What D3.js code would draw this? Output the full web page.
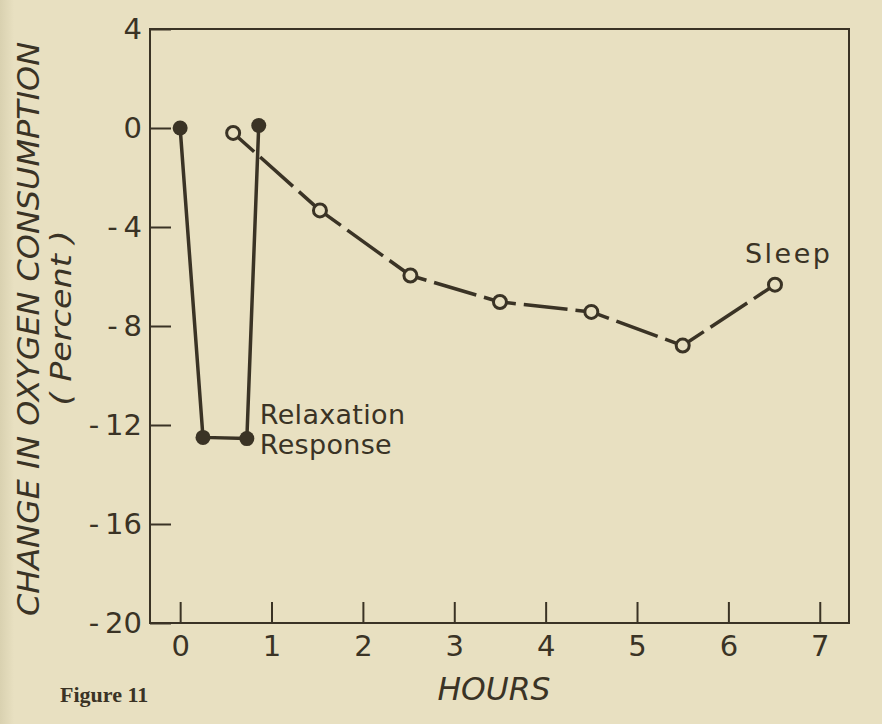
<!DOCTYPE html>
<html>
<head>
<meta charset="utf-8">
<script src="https://cdn.jsdelivr.net/npm/d3@7"></script>
<style>
  body { margin: 0; background: #e8e0c1; }
  svg { display: block; }
</style>
</head>
<body>
<svg id="chart" width="882" height="724"></svg>
<script>
// values
const xTicks = [0, 1, 2, 3, 4, 5, 6, 7];
const yTicks = [4, 0, -4, -8, -12, -16, -20];

// relaxation response (filled dots, solid line)
const relaxHours = [0, 0.25, 0.73, 0.86];
const relaxValues = [0, -12.5, -12.55, 0.1];

// sleep (open dots, dashed line)
const sleepHours = [0.58, 1.53, 2.52, 3.5, 4.5, 5.5, 6.51];
const sleepValues = [-0.2, -3.33, -5.96, -7.03, -7.43, -8.79, -6.33];

const ink = "#3a3325";
const bg = "#e8e0c1";

const svg = d3.select("#chart");

// slightly darker scan edge on the left
const grad = svg.append("defs").append("linearGradient").attr("id", "edge");
grad.append("stop").attr("offset", "0%").attr("stop-color", "#d9d1b0");
grad.append("stop").attr("offset", "100%").attr("stop-color", bg);
svg.append("rect").attr("width", 14).attr("height", 724).attr("fill", "url(#edge)");

// frame runs a bit past 0 and 7 on the hours axis
const x = d3.scaleLinear().domain([-0.33, 7.32]).range([150, 849]);
const y = d3.scaleLinear().domain([-20, 4]).range([623, 29]);

// box
svg.append("rect")
  .attr("x", x.range()[0])
  .attr("y", y.range()[1])
  .attr("width", x.range()[1] - x.range()[0])
  .attr("height", y.range()[0] - y.range()[1])
  .attr("fill", "none")
  .attr("stroke", ink)
  .attr("stroke-width", 2);

const fmtY = (d) => (d < 0 ? "-\u2009" + Math.abs(d) : String(d));

// left axis, ticks pointing inward
const yAxis = svg.append("g")
  .attr("transform", "translate(" + x.range()[0] + ",0)")
  .call(d3.axisLeft(y).tickValues(yTicks).tickFormat(fmtY).tickSize(-21).tickSizeOuter(0).tickPadding(8));

// bottom axis
const xAxis = svg.append("g")
  .attr("transform", "translate(0," + y.range()[0] + ")")
  .call(d3.axisBottom(x).tickValues(xTicks).tickFormat(d3.format("d")).tickSize(-21).tickSizeOuter(0).tickPadding(12));

[yAxis, xAxis].forEach((g) => {
  g.select(".domain").remove();
  g.selectAll("line").attr("stroke", ink).attr("stroke-width", 2);
  g.selectAll("text")
    .attr("fill", ink)
    .style("font-family", "'DejaVu Sans', sans-serif")
    .style("font-size", "29px");
});

// solid relaxation line
const relax = relaxHours.map((h, i) => [h, relaxValues[i]]);
const line = d3.line().x((d) => x(d[0])).y((d) => y(d[1]));

svg.append("path")
  .datum(relax)
  .attr("d", line)
  .attr("fill", "none")
  .attr("stroke", ink)
  .attr("stroke-width", 3.5)
  .attr("stroke-linejoin", "round");

// dashed sleep line, each leg centred on a dash
const sleep = sleepHours.map((h, i) => [h, sleepValues[i]]);
const dash = 44, gap = 8, period = dash + gap;
d3.pairs(sleep).forEach((seg) => {
  const dx = x(seg[1][0]) - x(seg[0][0]);
  const dy = y(seg[1][1]) - y(seg[0][1]);
  const len = Math.sqrt(dx * dx + dy * dy);
  let off = -(len / 2 - dash / 2);
  off = ((off % period) + period) % period;
  svg.append("path")
    .datum(seg)
    .attr("d", line)
    .attr("fill", "none")
    .attr("stroke", ink)
    .attr("stroke-width", 3.5)
    .attr("stroke-dasharray", dash + "," + gap)
    .attr("stroke-dashoffset", off);
});

// dots
svg.selectAll(".relax-dot")
  .data(relax)
  .enter()
  .append("circle")
  .attr("class", "relax-dot")
  .attr("cx", (d) => x(d[0]))
  .attr("cy", (d) => y(d[1]))
  .attr("r", 7.5)
  .attr("fill", ink);

svg.selectAll(".sleep-dot")
  .data(sleep)
  .enter()
  .append("circle")
  .attr("class", "sleep-dot")
  .attr("cx", (d) => x(d[0]))
  .attr("cy", (d) => y(d[1]))
  .attr("r", 6.5)
  .attr("fill", bg)
  .attr("stroke", ink)
  .attr("stroke-width", 3);

// annotations, placed from the data points
const lastRelax = relax[2];
const relaxLabel = svg.append("text")
  .attr("x", x(lastRelax[0]) + 13)
  .attr("y", y(lastRelax[1]) - 15)
  .attr("fill", ink)
  .style("font-family", "'DejaVu Sans', sans-serif")
  .style("font-size", "27px")
  .style("letter-spacing", "0.3px");
relaxLabel.append("tspan").text("Relaxation");
relaxLabel.append("tspan")
  .attr("x", x(lastRelax[0]) + 13)
  .attr("dy", 30)
  .text("Response");

const lastSleep = sleep[sleep.length - 1];
svg.append("text")
  .attr("x", x(lastSleep[0]) - 30)
  .attr("y", y(lastSleep[1]) - 22)
  .attr("fill", ink)
  .style("font-family", "'DejaVu Sans', sans-serif")
  .style("font-size", "27px")
  .style("letter-spacing", "2.5px")
  .text("Sleep");

// axis titles
svg.append("text")
  .attr("transform", "translate(39,329) rotate(-90)")
  .attr("text-anchor", "middle")
  .attr("fill", ink)
  .attr("textLength", 574)
  .attr("lengthAdjust", "spacingAndGlyphs")
  .style("font-family", "'Liberation Sans Narrow', 'DejaVu Sans Condensed', sans-serif")
  .style("font-style", "italic")
  .style("font-size", "30px")
  .text("CHANGE IN OXYGEN CONSUMPTION");

svg.append("text")
  .attr("transform", "translate(71,318) rotate(-90)")
  .attr("text-anchor", "middle")
  .attr("fill", ink)
  .attr("textLength", 175)
  .attr("lengthAdjust", "spacingAndGlyphs")
  .style("font-family", "'Liberation Sans Narrow', 'DejaVu Sans Condensed', sans-serif")
  .style("font-style", "italic")
  .style("font-size", "28px")
  .text("( Percent )");

svg.append("text")
  .attr("x", 494)
  .attr("y", 700)
  .attr("text-anchor", "middle")
  .attr("fill", ink)
  .attr("textLength", 113)
  .attr("lengthAdjust", "spacingAndGlyphs")
  .style("font-family", "'Liberation Sans Narrow', 'DejaVu Sans Condensed', sans-serif")
  .style("font-style", "italic")
  .style("font-size", "32px")
  .text("HOURS");

svg.append("text")
  .attr("x", 60)
  .attr("y", 702)
  .attr("fill", ink)
  .style("font-family", "'Liberation Serif', serif")
  .style("font-weight", "bold")
  .style("font-size", "22px")
  .text("Figure 11");
</script>
</body>
</html>
